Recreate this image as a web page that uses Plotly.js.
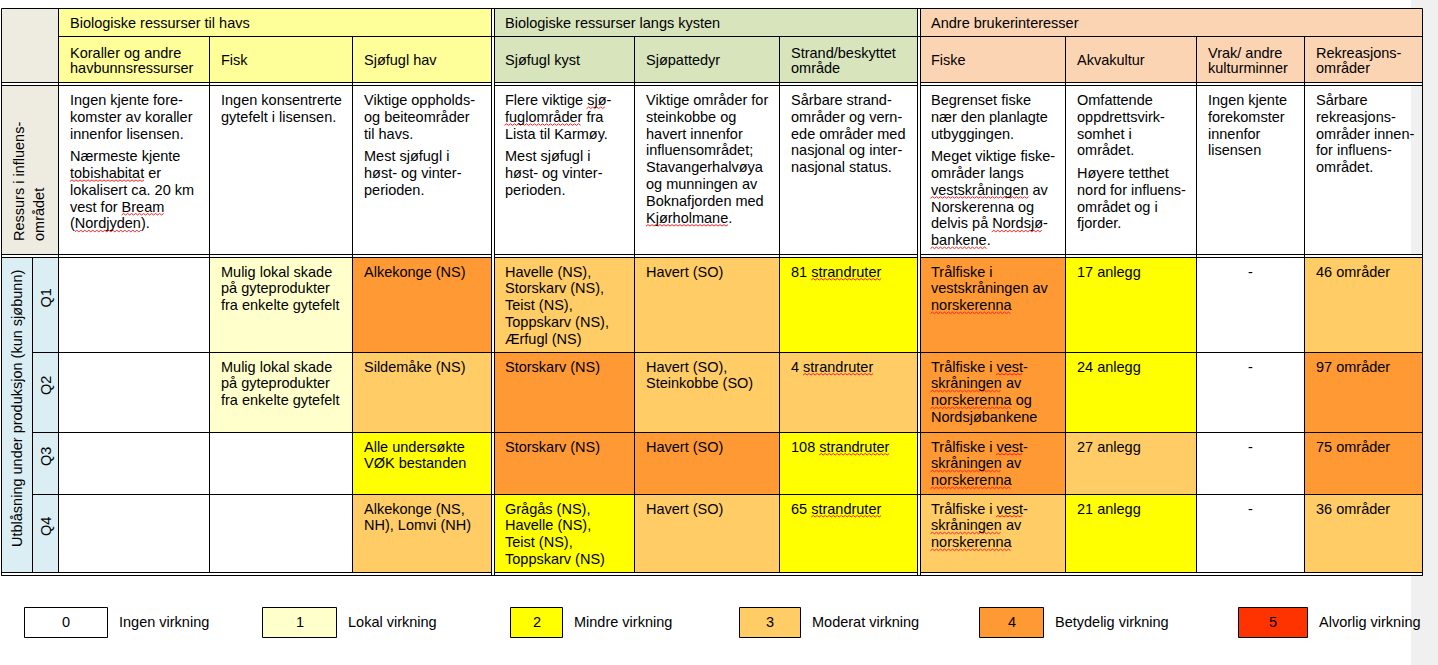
<!DOCTYPE html>
<html><head><meta charset="utf-8">
<script src="https://cdn.plot.ly/plotly-3.0.1.min.js"></script>
<style>html,body{margin:0;padding:0;background:#fff;overflow:hidden}</style>
</head><body><div id="chart" style="width:1438px;height:665px"></div>
<script>
// ---------------- DATA ----------------
const groupNames = ["Biologiske ressurser til havs", "Biologiske ressurser langs kysten", "Andre brukerinteresser"];
const groupSizes = [3, 3, 4];
const columnNames = ["Koraller og andre\nhavbunnsressurser", "Fisk", "Sjøfugl hav", "Sjøfugl kyst", "Sjøpattedyr",
  "Strand/beskyttet\nområde", "Fiske", "Akvakultur", "Vrak/ andre\nkulturminner", "Rekreasjons-\nområder"];
const resourceLabel = ["Ressurs i influens-", "området"];
const resourceText = [
  ["Ingen kjente fore-\nkomster av koraller\ninnenfor lisensen.", "Nærmeste kjente\ntobishabitat er\nlokalisert ca. 20 km\nvest for Bream\n(Nordjyden)."],
  ["Ingen konsentrerte\ngytefelt i lisensen."],
  ["Viktige oppholds-\nog beiteområder\ntil havs.", "Mest sjøfugl i\nhøst- og vinter-\nperioden."],
  ["Flere viktige sjø-\nfuglområder fra\nLista til Karmøy.", "Mest sjøfugl i\nhøst- og vinter-\nperioden."],
  ["Viktige områder for\nsteinkobbe og\nhavert innenfor\ninfluensområdet;\nStavangerhalvøya\nog munningen av\nBoknafjorden med\nKjørholmane."],
  ["Sårbare strand-\nområder og vern-\nede områder med\nnasjonal og inter-\nnasjonal status."],
  ["Begrenset fiske\nnær den planlagte\nutbyggingen.", "Meget viktige fiske-\nområder langs\nvestskråningen av\nNorskerenna og\ndelvis på Nordsjø-\nbankene."],
  ["Omfattende\noppdrettsvirk-\nsomhet i\nområdet.", "Høyere tetthet\nnord for influens-\nområdet og i\nfjorder."],
  ["Ingen kjente\nforekomster\ninnenfor\nlisensen"],
  ["Sårbare\nrekreasjons-\nområder innen-\nfor influens-\nområdet."]
];
const scenarioLabel = "Utblåsning under produksjon (kun sjøbunn)";
const quarters = ["Q1", "Q2", "Q3", "Q4"];
// impact levels 0-5 per column
const levelQ1 = [0, 1, 4, 3, 3, 2, 4, 2, 0, 3];
const levelQ2 = [0, 1, 3, 4, 3, 3, 4, 2, 0, 4];
const levelQ3 = [0, 0, 2, 4, 4, 2, 4, 3, 0, 4];
const levelQ4 = [0, 0, 3, 2, 3, 2, 3, 2, 0, 3];
const textQ1 = ["", "Mulig lokal skade\npå gyteprodukter\nfra enkelte gytefelt", "Alkekonge (NS)",
  "Havelle (NS),\nStorskarv (NS),\nTeist (NS),\nToppskarv (NS),\nÆrfugl (NS)", "Havert (SO)", "81 strandruter",
  "Trålfiske i\nvestskråningen av\nnorskerenna", "17 anlegg", "-", "46 områder"];
const textQ2 = ["", "Mulig lokal skade\npå gyteprodukter\nfra enkelte gytefelt", "Sildemåke (NS)",
  "Storskarv (NS)", "Havert (SO),\nSteinkobbe (SO)", "4 strandruter",
  "Trålfiske i vest-\nskråningen av\nnorskerenna og\nNordsjøbankene", "24 anlegg", "-", "97 områder"];
const textQ3 = ["", "", "Alle undersøkte\nVØK bestanden", "Storskarv (NS)", "Havert (SO)", "108 strandruter",
  "Trålfiske i vest-\nskråningen av\nnorskerenna", "27 anlegg", "-", "75 områder"];
const textQ4 = ["", "", "Alkekonge (NS,\nNH), Lomvi (NH)", "Grågås (NS),\nHavelle (NS),\nTeist (NS),\nToppskarv (NS)",
  "Havert (SO)", "65 strandruter", "Trålfiske i vest-\nskråningen av\nnorskerenna", "21 anlegg", "-", "36 områder"];
const legendLevels = [0, 1, 2, 3, 4, 5];
const legendLabels = ["Ingen virkning", "Lokal virkning", "Mindre virkning", "Moderat virkning", "Betydelig virkning", "Alvorlig virkning"];

// ---------------- STYLE / LAYOUT ----------------
const levelColors = ["#FFFFFF", "#FFFFCC", "#FFFF00", "#FFCC66", "#FF9933", "#FF3300"];
const groupColors = ["#FFFF99", "#D7E4BC", "#FBD4B4"];
// words flagged by the spell checker in the original document (red wavy underline)
const spellResource = {0: ["tobishabitat", "Bream", "Nordjyden"], 3: ["sjø", "fuglområder"], 4: ["Kjørholmane"],
  6: ["vestskråningen", "Nordsjø", "bankene"]};
const spellQuarter = {5: ["strandruter"], 6: ["norskerenna", "vest", "skråningen"]};
const FONT = "Liberation Sans, Arial, sans-serif";
const FS = 14.5;
const LH = 16.8;
const PARA = 5.7;
const colEdges = [58.5, 209.5, 352.5, 493, 634.5, 779.5, 919, 1065.5, 1196.5, 1304.5, 1422.5];
const groupEdges = [[58.5, 491.5], [494.5, 917.5], [920.5, 1422.5]];
const qRowEdges = [257.5, 352.5, 432.5, 494.5, 572.5];
const legendX0 = [24.5, 262.5, 510.5, 739.5, 979.5, 1238.5];
const legendX1 = [107.5, 336.5, 562.5, 800.5, 1043.5, 1307.5];

const shapes = [];
const ann = [];
const cvs = document.createElement("canvas").getContext("2d");
cvs.font = FS + "px 'Liberation Sans', Arial, sans-serif";

function rect(x0, y0, x1, y1, fill, layer, lw) {
  shapes.push({type: "rect", xref: "x", yref: "y", x0, y0, x1, y1, layer: layer || "below",
    fillcolor: fill, line: {width: lw || 0, color: "#000"}});
}
function line(x0, y0, x1, y1) {
  shapes.push({type: "line", xref: "x", yref: "y", x0, y0, x1, y1, layer: "above", line: {width: 1, color: "#000"}});
}
function txt(s, x, y, xa, extra) {
  ann.push(Object.assign({text: s, x, y, xref: "x", yref: "y", xanchor: xa || "left", yanchor: "middle",
    showarrow: false, borderpad: 0, font: {family: FONT, size: FS, color: "#000"}}, extra || {}));
}
function squiggles(s, x, y, words) {
  if (!words) return;
  const re = /[^\s]+/g;
  let m;
  while ((m = re.exec(s)) !== null) {
    const raw = m[0];
    const core = raw.replace(/^[(]+/, "").replace(/[),.;\-]+$/, "");
    if (words.indexOf(core) < 0) continue;
    const lead = raw.indexOf(core);
    const xs = x + 1 + cvs.measureText(s.slice(0, m.index + lead)).width;
    const xe = xs + cvs.measureText(core).width;
    const yb = y + 7;
    let p = "M" + xs.toFixed(1) + "," + (yb + 1.5);
    let k = 0;
    for (let xx = xs + 2; xx <= xe + 0.5; xx += 2) {
      k++;
      p += " L" + xx.toFixed(1) + "," + (k % 2 ? yb : yb + 1.5);
    }
    shapes.push({type: "path", xref: "x", yref: "y", path: p, layer: "above", line: {width: 1, color: "#FF2020"}});
  }
}

// page-side grey strip
rect(1411, 0, 1438, 665, "#F0F0F0");
// header fills
groupEdges.forEach((g, i) => rect(g[0], 8.5, g[1], 82.5, groupColors[i]));
rect(1.5, 8.5, 58.5, 82.5, "#EEECE1");
rect(1.5, 85.5, 58.5, 254.5, "#EEECE1");
rect(1.5, 257.5, 58.5, 572.5, "#DAEEF3");

// header texts
let ci = 0;
groupNames.forEach((g, i) => {
  txt(g, colEdges[ci] + 10.5, 22.5);
  ci += groupSizes[i];
});
columnNames.forEach((c, i) => {
  const parts = c.split("\n");
  const mid = 60.3;
  parts.forEach((p, k) => txt(p, colEdges[i] + 10.5, mid + (k - (parts.length - 1) / 2) * 15.5));
});

// resource row
resourceText.forEach((paras, i) => {
  let li = 0;
  paras.forEach((p, pi) => {
    p.split("\n").forEach(l => {
      const yy = 85.5 + 14.5 + li * LH + pi * PARA;
      txt(l, colEdges[i] + 10.5, yy);
      squiggles(l, colEdges[i] + 10.5, yy, spellResource[i]);
      li++;
    });
  });
});
// rotated labels
txt(resourceLabel[0], 18.5, 242, "center", {textangle: -90, yanchor: "bottom"});
txt(resourceLabel[1], 38.5, 242, "center", {textangle: -90, yanchor: "bottom"});
txt(scenarioLabel, 16.5, 548, "center", {textangle: -90, yanchor: "bottom"});
quarters.forEach((q, r) => txt(q, 45.5, (qRowEdges[r] + qRowEdges[r + 1]) / 2 - 7, "center", {textangle: -90}));

// quarter rows text
const qTexts = [textQ1, textQ2, textQ3, textQ4];
qTexts.forEach((row, r) => {
  row.forEach((s, i) => {
    if (!s) return;
    if (s === "-") { txt(s, (colEdges[i] + colEdges[i + 1]) / 2, qRowEdges[r] + 14, "center"); return; }
    s.split("\n").forEach((l, k) => {
      const yy = qRowEdges[r] + 14 + k * LH;
      txt(l, colEdges[i] + 10.5, yy);
      squiggles(l, colEdges[i] + 10.5, yy, spellQuarter[i]);
    });
  });
});

// borders (above)
rect(1.5, 82.5, 1422.5, 85.5, "#FFFFFF", "above", 1);
rect(1.5, 254.5, 1422.5, 257.5, "#FFFFFF", "above", 1);
rect(1.5, 572.5, 1422.5, 575.5, "#FFFFFF", "above", 1);
rect(491.5, 8.5, 494.5, 575.5, "#FFFFFF", "above", 1);
rect(917.5, 8.5, 920.5, 575.5, "#FFFFFF", "above", 1);
line(1.5, 8.5, 1422.5, 8.5);
line(58.5, 36.5, 1422.5, 36.5);
[352.5, 432.5, 494.5].forEach(y => line(32.5, y, 1422.5, y));
line(1.5, 8.5, 1.5, 575.5);
line(1422.5, 8.5, 1422.5, 575.5);
line(58.5, 8.5, 58.5, 572.5);
line(32.5, 257.5, 32.5, 572.5);
[1, 2, 4, 5, 7, 8, 9].forEach(i => line(colEdges[i], 36.5, colEdges[i], 572.5));
[491.5, 494.5, 917.5, 920.5].forEach(x => line(x, 8.5, x, 575.5));

// legend
legendLevels.forEach((lv, i) => {
  rect(legendX0[i], 607.5, legendX1[i], 637.5, levelColors[lv], "above", 1);
  txt(String(lv), (legendX0[i] + legendX1[i]) / 2, 622, "center");
  txt(legendLabels[i], legendX1[i] + 10.5, 622);
});

// quarter cells as heatmap
const n = levelColors.length;
const cs = [];
levelColors.forEach((c, i) => { cs.push([i / n, c]); cs.push([(i + 1) / n, c]); });
const trace = {
  type: "heatmap", z: [levelQ1, levelQ2, levelQ3, levelQ4], x: colEdges, y: qRowEdges,
  zmin: -0.5, zmax: n - 0.5, colorscale: cs, showscale: false, hoverinfo: "skip"
};

const layout = {
  width: 1438, height: 665, margin: {l: 0, r: 0, t: 0, b: 0},
  paper_bgcolor: "#FFFFFF", plot_bgcolor: "#FFFFFF",
  xaxis: {range: [0, 1438], visible: false, fixedrange: true},
  yaxis: {range: [665, 0], visible: false, fixedrange: true},
  shapes, annotations: ann, showlegend: false
};
Plotly.newPlot("chart", [trace], layout, {staticPlot: true});
</script></body></html>
